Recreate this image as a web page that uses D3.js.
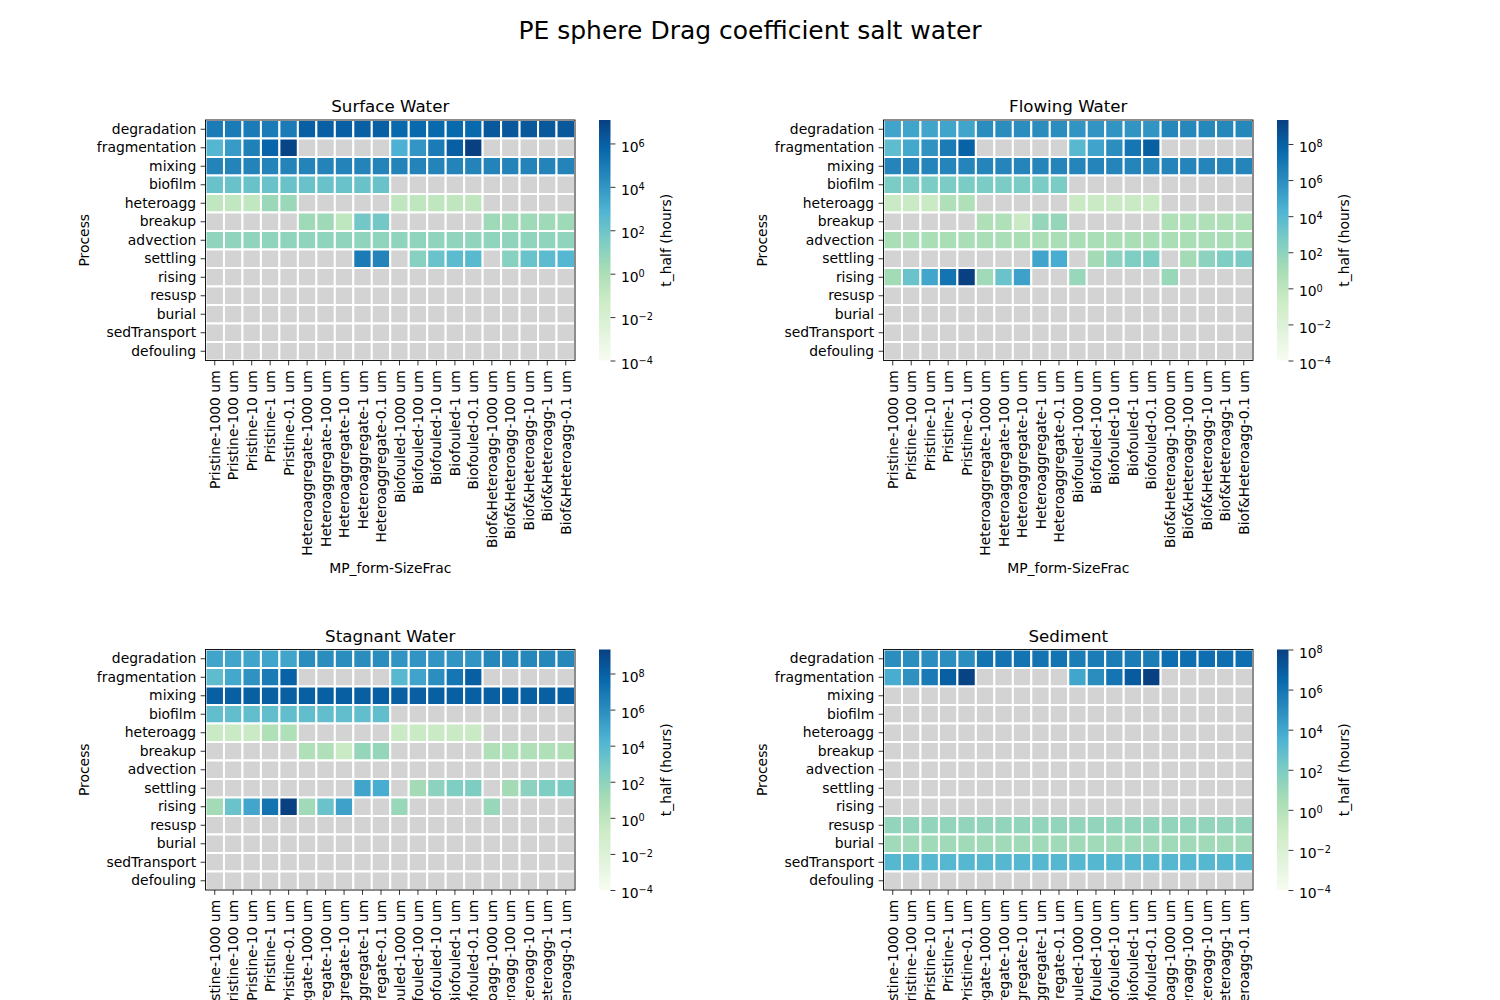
<!DOCTYPE html>
<html><head><meta charset="utf-8">
<script src="https://cdn.jsdelivr.net/npm/d3@7"></script>
<style>
body{margin:0;background:#fff}
text{font-family:"DejaVu Sans",sans-serif;fill:#000}
</style>
</head><body>
<svg id="chart" width="1500" height="1000"></svg>
<script>
// ---------- DATA ----------
const processes = ["degradation","fragmentation","mixing","biofilm","heteroagg","breakup","advection","settling","rising","resusp","burial","sedTransport","defouling"];
const mpForms = ["Pristine","Heteroaggregate","Biofouled","Biof&Heteroagg"];
const sizeFracs = ["1000","100","10","1","0.1"];
const categories = mpForms.flatMap(f => sizeFracs.map(s => `${f}-${s} um`));
const _ = null; // not applicable (NaN)
const vminLog10 = -4; // colour scale lower bound: 1e-4 hours

// values are log10(t_half in hours), one row per process, 20 MP_form-SizeFrac columns
const surfaceWater = [
  [4.95,4.95,4.95,4.95,4.95, 6.0,6.0,6.0,6.0,6.0, 5.65,5.65,5.65,5.65,5.65, 6.25,6.25,6.25,6.25,6.25],
  [2.75,3.8,4.75,5.8,6.9, _,_,_,_,_, 3.0,4.0,4.95,6.0,7.08, _,_,_,_,_],
  [4.6,4.6,4.6,4.6,4.6, 4.6,4.6,4.6,4.6,4.6, 4.6,4.6,4.6,4.6,4.6, 4.6,4.6,4.6,4.6,4.6],
  [2.1,2.1,2.1,2.1,2.1, 2.1,2.1,2.1,2.1,2.1, _,_,_,_,_, _,_,_,_,_],
  [-0.8,-0.8,-0.8,0.55,0.55, _,_,_,_,_, -0.75,-0.75,-0.75,-0.75,-0.75, _,_,_,_,_],
  [_,_,_,_,_, 0.45,0.45,-0.7,1.8,1.8, _,_,_,_,_, 0.45,0.45,0.45,0.45,0.45],
  [0.87,0.87,0.87,0.87,0.87, 0.87,0.87,0.87,0.87,0.87, 0.87,0.87,0.87,0.87,0.87, 0.87,0.87,0.87,0.87,0.87],
  [_,_,_,_,_, _,_,_,4.95,4.6, _,1.15,2.05,2.5,2.6, _,1.15,2.05,2.5,2.7],
  [_,_,_,_,_, _,_,_,_,_, _,_,_,_,_, _,_,_,_,_],
  [_,_,_,_,_, _,_,_,_,_, _,_,_,_,_, _,_,_,_,_],
  [_,_,_,_,_, _,_,_,_,_, _,_,_,_,_, _,_,_,_,_],
  [_,_,_,_,_, _,_,_,_,_, _,_,_,_,_, _,_,_,_,_],
  [_,_,_,_,_, _,_,_,_,_, _,_,_,_,_, _,_,_,_,_]
];
const flowingWater = [
  [4.95,4.95,4.95,4.95,4.95, 6.0,6.0,6.0,6.0,6.0, 5.65,5.65,5.65,5.65,5.65, 6.25,6.25,6.25,6.25,6.25],
  [3.75,4.8,5.75,6.8,7.9, _,_,_,_,_, 4.0,5.0,5.95,7.0,8.0, _,_,_,_,_],
  [6.3,6.3,6.3,6.3,6.3, 6.3,6.3,6.3,6.3,6.3, 6.3,6.3,6.3,6.3,6.3, 6.3,6.3,6.3,6.3,6.3],
  [2.65,2.65,2.65,2.65,2.65, 2.65,2.65,2.65,2.65,2.65, _,_,_,_,_, _,_,_,_,_],
  [-0.55,-0.55,-0.55,0.65,0.65, _,_,_,_,_, -0.55,-0.55,-0.55,-0.55,-0.55, _,_,_,_,_],
  [_,_,_,_,_, 0.65,0.65,-0.55,1.7,1.7, _,_,_,_,_, 0.65,0.65,0.65,0.65,0.65],
  [0.93,0.93,0.93,0.93,0.93, 0.93,0.93,0.93,0.93,0.93, 0.93,0.93,0.93,0.93,0.93, 0.93,0.93,0.93,0.93,0.93],
  [_,_,_,_,_, _,_,_,4.95,4.6, _,1.15,2.05,2.5,2.6, _,1.15,2.05,2.5,2.7],
  [1.2,3.3,4.9,7.1,9.33, 1.3,3.3,5.1,_,_, 1.6,_,_,_,_, 1.6,_,_,_,_],
  [_,_,_,_,_, _,_,_,_,_, _,_,_,_,_, _,_,_,_,_],
  [_,_,_,_,_, _,_,_,_,_, _,_,_,_,_, _,_,_,_,_],
  [_,_,_,_,_, _,_,_,_,_, _,_,_,_,_, _,_,_,_,_],
  [_,_,_,_,_, _,_,_,_,_, _,_,_,_,_, _,_,_,_,_]
];
const stagnantWater = [
  [4.95,4.95,4.95,4.95,4.95, 6.0,6.0,6.0,6.0,6.0, 5.65,5.65,5.65,5.65,5.65, 6.25,6.25,6.25,6.25,6.25],
  [3.75,4.8,5.75,6.8,7.9, _,_,_,_,_, 4.0,5.0,5.95,7.0,8.0, _,_,_,_,_],
  [8.0,8.0,8.0,8.0,8.0, 8.0,8.0,8.0,8.0,8.0, 8.0,8.0,8.0,8.0,8.0, 8.0,8.0,8.0,8.0,8.0],
  [3.6,3.6,3.6,3.6,3.6, 3.6,3.6,3.6,3.6,3.6, _,_,_,_,_, _,_,_,_,_],
  [-0.55,-0.55,-0.55,0.65,0.65, _,_,_,_,_, -0.55,-0.55,-0.55,-0.55,-0.55, _,_,_,_,_],
  [_,_,_,_,_, 0.65,0.65,-0.55,1.7,1.7, _,_,_,_,_, 0.65,0.65,0.65,0.65,0.65],
  [_,_,_,_,_, _,_,_,_,_, _,_,_,_,_, _,_,_,_,_],
  [_,_,_,_,_, _,_,_,4.95,4.6, _,1.15,2.05,2.5,2.6, _,1.15,2.05,2.5,2.7],
  [1.2,3.3,4.9,7.1,9.33, 1.3,3.3,5.1,_,_, 1.6,_,_,_,_, 1.6,_,_,_,_],
  [_,_,_,_,_, _,_,_,_,_, _,_,_,_,_, _,_,_,_,_],
  [_,_,_,_,_, _,_,_,_,_, _,_,_,_,_, _,_,_,_,_],
  [_,_,_,_,_, _,_,_,_,_, _,_,_,_,_, _,_,_,_,_],
  [_,_,_,_,_, _,_,_,_,_, _,_,_,_,_, _,_,_,_,_]
];
const sediment = [
  [4.95,4.95,4.95,4.95,4.95, 6.0,6.0,6.0,6.0,6.0, 5.65,5.65,5.65,5.65,5.65, 6.25,6.25,6.25,6.25,6.25],
  [3.75,4.8,5.75,6.8,7.9, _,_,_,_,_, 4.0,5.0,5.95,7.0,8.0, _,_,_,_,_],
  [_,_,_,_,_, _,_,_,_,_, _,_,_,_,_, _,_,_,_,_],
  [_,_,_,_,_, _,_,_,_,_, _,_,_,_,_, _,_,_,_,_],
  [_,_,_,_,_, _,_,_,_,_, _,_,_,_,_, _,_,_,_,_],
  [_,_,_,_,_, _,_,_,_,_, _,_,_,_,_, _,_,_,_,_],
  [_,_,_,_,_, _,_,_,_,_, _,_,_,_,_, _,_,_,_,_],
  [_,_,_,_,_, _,_,_,_,_, _,_,_,_,_, _,_,_,_,_],
  [_,_,_,_,_, _,_,_,_,_, _,_,_,_,_, _,_,_,_,_],
  [1.2,1.2,1.2,1.2,1.2, 1.2,1.2,1.2,1.2,1.2, 1.2,1.2,1.2,1.2,1.2, 1.2,1.2,1.2,1.2,1.2],
  [0.75,0.75,0.75,0.75,0.75, 0.75,0.75,0.75,0.75,0.75, 0.75,0.75,0.75,0.75,0.75, 0.75,0.75,0.75,0.75,0.75],
  [3.25,3.25,3.25,3.25,3.25, 3.25,3.25,3.25,3.25,3.25, 3.25,3.25,3.25,3.25,3.25, 3.25,3.25,3.25,3.25,3.25],
  [_,_,_,_,_, _,_,_,_,_, _,_,_,_,_, _,_,_,_,_]
];

const panelTitles = ["Surface Water","Flowing Water","Stagnant Water","Sediment"];
const panelData = [surfaceWater, flowingWater, stagnantWater, sediment];
const suptitle = "PE sphere Drag coefficient salt water";

// ---------- STYLE / LAYOUT ----------
const FS = 13.9;
const gnbuStops = ["#f7fcf0","#e0f3db","#ccebc5","#a8ddb5","#7bccc4","#4eb3d3","#2b8cbe","#0868ac","#084081"];
const gnbu = d3.scaleLinear().domain(d3.range(9).map(i => i/8)).range(gnbuStops)
  .interpolate(d3.interpolateRgb).clamp(true);
const panelPos = [[205.5,120],[883.5,120],[205.5,649.5],[883.5,649.5]];
const W = 369.5, H = 240.5;

const svg = d3.select("#chart");
svg.append("rect").attr("width",1500).attr("height",1000).attr("fill","#fff");
svg.append("text").attr("x",750).attr("y",39).attr("text-anchor","middle")
  .attr("font-size",25).text(suptitle);
const defs = svg.append("defs");

panelData.forEach((data, k) => drawPanel(data, panelTitles[k], panelPos[k][0], panelPos[k][1], k));

function styleAxis(ax){
  ax.select(".domain").remove();
  ax.attr("font-family", null).attr("font-size", null);
  ax.selectAll("text").attr("font-size", FS).attr("fill","#000");
  ax.selectAll("line").attr("stroke","#000").attr("stroke-width",0.8);
}

function drawPanel(data, title, left, top, k){
  const g = svg.append("g").attr("transform",`translate(${left},${top})`);
  const x = d3.scaleBand().domain(categories).range([0, W]);
  const y = d3.scaleBand().domain(processes).range([0, H]);
  const cells = [];
  data.forEach((row,i) => row.forEach((v,j) => cells.push({
    proc: processes[i], cat: categories[j], v: v === null ? null : Math.pow(10, v)
  })));
  const vmin = Math.pow(10, vminLog10);
  const vmax = d3.max(cells, d => d.v);
  const norm = d3.scaleLog().domain([vmin, vmax]).range([0,1]).clamp(true);

  g.selectAll("rect.cell").data(cells).join("rect").attr("class","cell")
    .attr("x", d => x(d.cat)).attr("y", d => y(d.proc))
    .attr("width", x.bandwidth()).attr("height", y.bandwidth())
    .attr("fill", d => d.v === null ? "#d3d3d3" : gnbu(norm(d.v)))
    .attr("stroke","#fff").attr("stroke-width",2);
  g.append("rect").attr("width",W).attr("height",H).attr("fill","none")
    .attr("stroke","#000").attr("stroke-width",0.9);

  // y axis
  const ya = g.append("g").call(d3.axisLeft(y).tickSize(4.9).tickPadding(4.4));
  styleAxis(ya);
  // x axis
  const xa = g.append("g").attr("transform",`translate(0,${H})`)
    .call(d3.axisBottom(x).tickSize(4.9).tickPadding(4.9));
  styleAxis(xa);
  xa.selectAll("text").attr("transform","rotate(-90)").attr("x",-9.8).attr("y",0)
    .attr("dy","0.36em").attr("text-anchor","end");

  // titles
  g.append("text").attr("x",W/2).attr("y",-8).attr("text-anchor","middle")
    .attr("font-size",16.67).text(title);
  g.append("text").attr("transform",`translate(${-121.5},${H/2}) rotate(-90)`)
    .attr("text-anchor","middle").attr("dominant-baseline","central")
    .attr("font-size",FS).text("Process");
  g.append("text").attr("x",W/2).attr("y",H+207.5).attr("text-anchor","middle")
    .attr("dominant-baseline","central").attr("font-size",FS).text("MP_form-SizeFrac");

  // colorbar
  const cbX = W + 24, cbW = 11.5;
  const gid = "cbgrad" + k;
  const grad = defs.append("linearGradient").attr("id",gid)
    .attr("x1",0).attr("y1",1).attr("x2",0).attr("y2",0);
  d3.range(0, 1.0001, 0.02).forEach(t => grad.append("stop")
    .attr("offset", t).attr("stop-color", gnbu(t)));
  g.append("rect").attr("x",cbX).attr("y",0).attr("width",cbW).attr("height",H)
    .attr("fill",`url(#${gid})`);
  const cy = d3.scaleLog().domain([vmin, vmax]).range([H, 0]);
  const maxExp = Math.floor(Math.log10(vmax));
  const tickVals = d3.range(vminLog10, maxExp + 1, 2).map(e => Math.pow(10, e));
  const ca = g.append("g").attr("transform",`translate(${cbX+cbW},0)`)
    .call(d3.axisRight(cy).tickValues(tickVals).tickSize(4.9).tickPadding(5.5).tickFormat(() => ""));
  styleAxis(ca);
  ca.selectAll("text").each(function(d){
    const e = Math.round(Math.log10(d));
    const t = d3.select(this).attr("dy","0.55em");
    t.append("tspan").text("10");
    t.append("tspan").attr("dy","-0.5em").attr("font-size", FS*0.7)
      .text(e < 0 ? "\u2212" + Math.abs(e) : String(e));
  });
  g.append("text").attr("transform",`translate(${cbX+cbW+55},${H/2}) rotate(-90)`)
    .attr("text-anchor","middle").attr("dominant-baseline","central")
    .attr("font-size",FS).text("t_half (hours)");
}
</script>
</body></html>
